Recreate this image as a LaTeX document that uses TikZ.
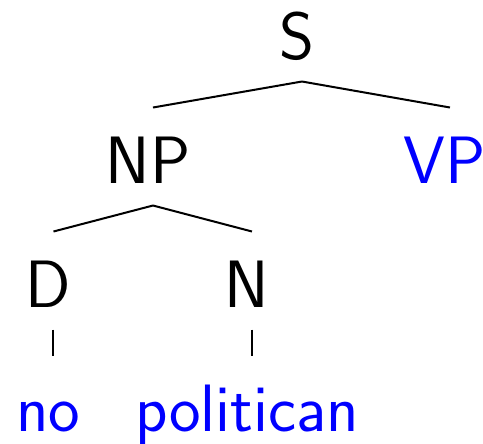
\documentclass[tikz,border=0pt]{standalone}
\begin{document}
\begin{tikzpicture}[x=0.4pt,y=-0.4pt,
    lbl/.style={anchor=base,inner sep=0pt,font=\fontsize{26.8}{32}\selectfont\sffamily},
    word/.style={lbl,blue},
    branch/.style={line width=0.8pt}]
  \useasboundingbox (0,0) rectangle (483,443);
  % tree labels
  \node[lbl] (S) at (297,59) {S};
  \node[lbl] (NP) at (148,183) {NP};
  \node[word] (VP) at (445,183) {VP};
  \node[lbl] (D) at (48.5,307) {D};
  \node[lbl] (N) at (247,307) {N};
  \node[word] (no) at (48.5,431) {no};
  \node[word] (pol) at (247,431) {politican};
  % branches
  \draw[branch] ([xshift=2pt,yshift=-9pt]S.base) -- ([xshift=2pt,yshift=30.2pt]NP.base);
  \draw[branch] ([xshift=2pt,yshift=-9pt]S.base) -- ([xshift=2pt,yshift=30.2pt]VP.base);
  \draw[branch] ([xshift=2pt,yshift=-9pt]NP.base) -- ([xshift=2pt,yshift=30.2pt]D.base);
  \draw[branch] ([xshift=2pt,yshift=-9pt]NP.base) -- ([xshift=2pt,yshift=30.2pt]N.base);
  \draw[branch] ([xshift=2pt,yshift=-9pt]D.base) -- ([xshift=2pt,yshift=30.2pt]no.base);
  \draw[branch] ([xshift=2pt,yshift=-9pt]N.base) -- ([xshift=2pt,yshift=30.2pt]pol.base);
\end{tikzpicture}
\end{document}
